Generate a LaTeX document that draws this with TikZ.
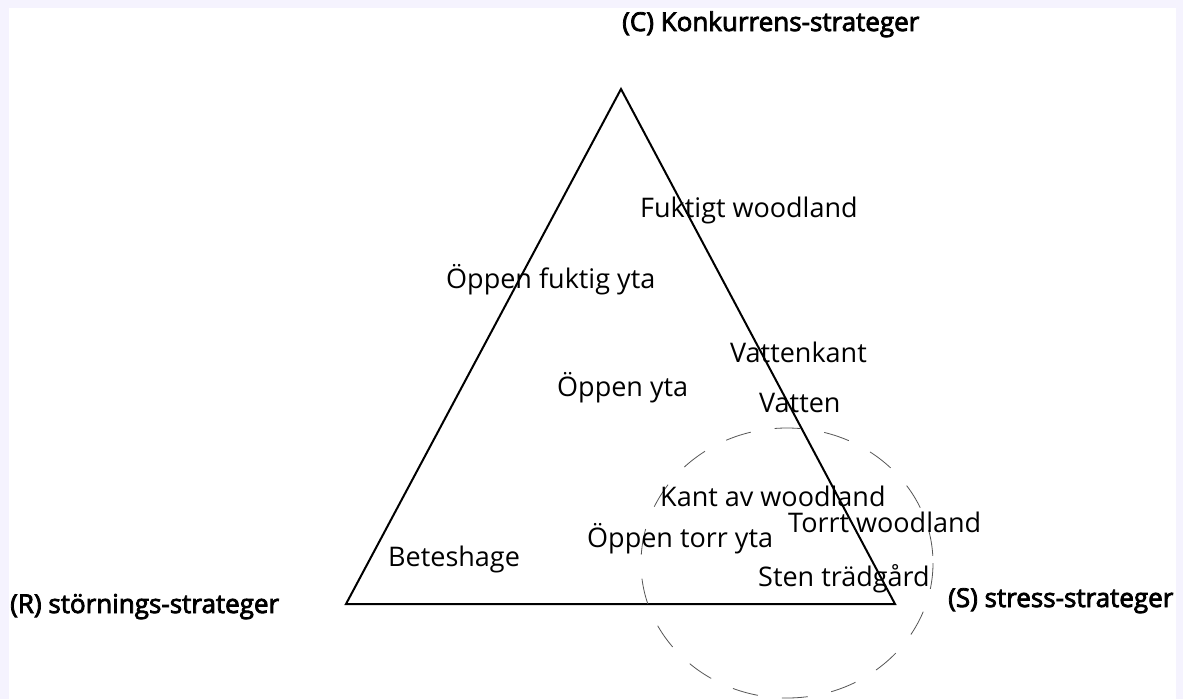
\documentclass[tikz,border=0pt]{standalone}
\usepackage{fontspec}
\setmainfont{Open Sans}
\newfontfamily\headfont{Open Sans}[FakeBold=3]
\definecolor{frame}{HTML}{F5F3FE}
\definecolor{dashgray}{HTML}{555555}
\tikzset{
  lbl/.style={font=\fontsize{27}{31}\selectfont, anchor=base west, inner sep=0pt},
  head/.style={font=\fontsize{26}{30}\selectfont\headfont, anchor=base west, inner sep=0pt},
  tri/.style={draw=black, line width=2pt, line join=miter},
  zone/.style={draw=dashgray, line width=0.8pt, dash pattern=on 26pt off 24pt}
}
\begin{document}
\begin{tikzpicture}[x=1pt, y=-1pt]
\fill[frame] (0,0) rectangle (1183,699);
\fill[white] (9,8) rectangle (1176,699);
\useasboundingbox (0,0) rectangle (1183,699);
\coordinate (C) at (621,89);
\coordinate (R) at (346,604);
\coordinate (S) at (895,604);
\draw[tri] (C) -- (R) -- (S) -- cycle;
\draw[zone] (787,563) ellipse [x radius=146, y radius=135];
\node[head] (hc) at (622,31) {(C) Konkurrens-strateger};
\node[head] (hr) at (10,613) {(R) störnings-strateger};
\node[head] (hs) at (948,607) {(S) stress-strateger};
\node[lbl] (fw) at (640,217) {Fuktigt woodland};
\node[lbl] (ofy) at (446,288) {Öppen fuktig yta};
\node[lbl] (vk) at (730,362) {Vattenkant};
\node[lbl] (oy) at (557,396) {Öppen yta};
\node[lbl] (va) at (759,412) {Vatten};
\node[lbl] (kaw) at (660,506) {Kant av woodland};
\node[lbl] (tw) at (788,532) {Torrt woodland};
\node[lbl] (oty) at (587,547) {Öppen torr yta};
\node[lbl] (bh) at (388,566) {Beteshage};
\node[lbl] (st) at (758,586) {Sten trädgård};
\end{tikzpicture}
\end{document}
